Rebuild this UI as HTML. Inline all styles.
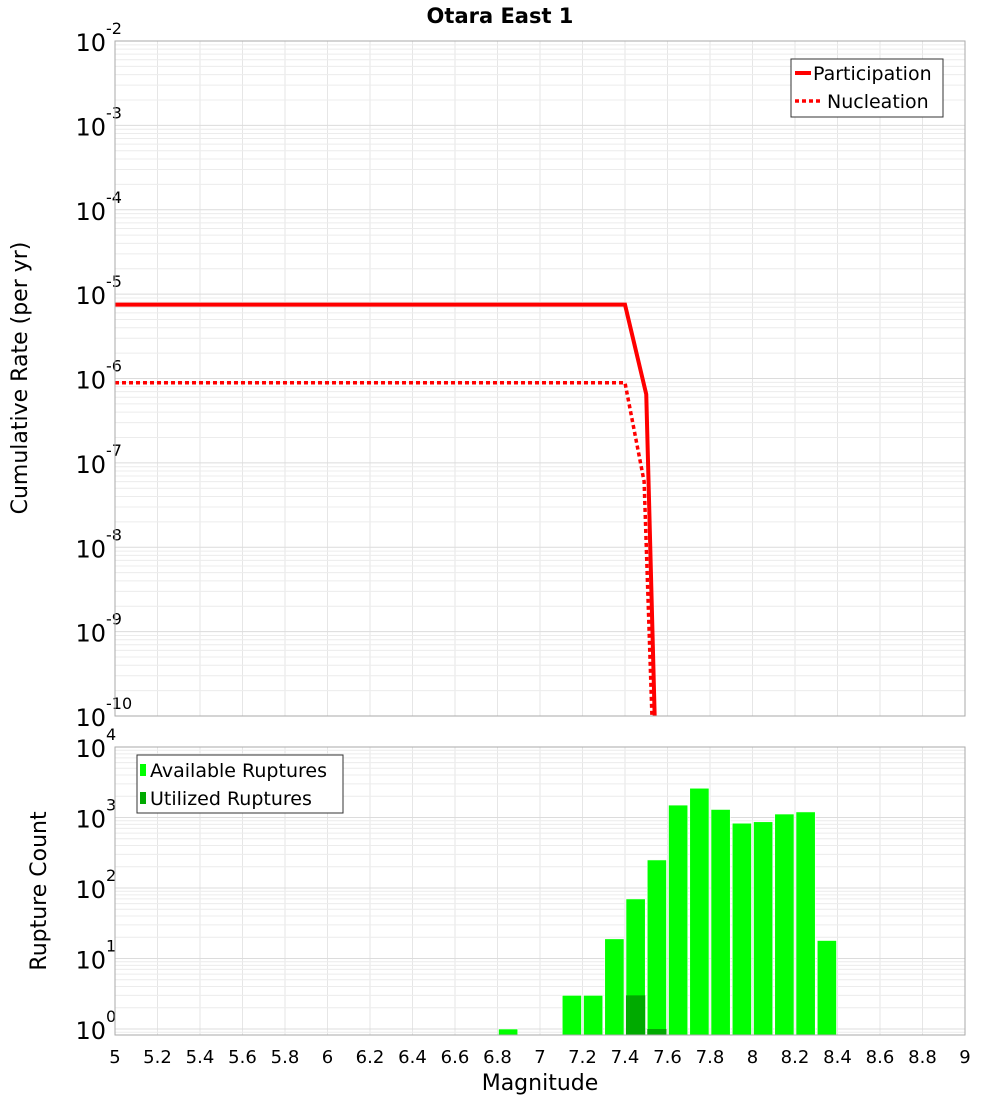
<!DOCTYPE html>
<html><head><meta charset="utf-8"><style>
body{margin:0;background:#fff;font-family:"Liberation Sans","DejaVu Sans",sans-serif}
</style></head><body>
<svg id="c" width="1000" height="1100" xmlns="http://www.w3.org/2000/svg" font-family="DejaVu Sans, Liberation Sans, sans-serif">
<text x="500" y="23" text-anchor="middle" font-weight="bold" font-size="21">Otara East 1</text>
<text transform="translate(27,378) rotate(-90)" text-anchor="middle" font-size="22">Cumulative Rate (per yr)</text>
<text transform="translate(46,891) rotate(-90)" text-anchor="middle" font-size="22">Rupture Count</text>
<text x="540" y="1090" text-anchor="middle" font-size="22">Magnitude</text>
</svg>
<script>
const rateMags=[5,7.4,7.5,7.55];
const participation=[7.5e-6,7.5e-6,6.5e-7,1e-11];
const nucleationMags=[5,7.4,7.49,7.54];
const nucleation=[8.9e-7,8.9e-7,6e-8,1e-11];
const binCenters=[6.85,7.15,7.25,7.35,7.45,7.55,7.65,7.75,7.85,7.95,8.05,8.15,8.25,8.35];
const available=[1,3,3,19,70,250,1500,2600,1300,830,870,1120,1200,18];
const utilBins=[7.45,7.55];
const utilized=[3,1];
const xTicks=[5,5.2,5.4,5.6,5.8,6,6.2,6.4,6.6,6.8,7,7.2,7.4,7.6,7.8,8,8.2,8.4,8.6,8.8,9];
const topExps=[-2,-3,-4,-5,-6,-7,-8,-9,-10];
const botExps=[4,3,2,1,0];

const svg=document.getElementById('c');const NS='http://www.w3.org/2000/svg';
function mk(t,a,p){const e=document.createElementNS(NS,t);for(const k in a)e.setAttribute(k,a[k]);(p||svg).appendChild(e);return e;}
const X0=115,X1=965;
const xs=m=>X0+(m-5)/4*(X1-X0);
const T0=41,T1=716;const ty=v=>T0+(-2-Math.log10(v))*(T1-T0)/8;
const B0=747,B1=1035,BD=70.5;const by=v=>1029-Math.log10(v)*BD;

function grid(y0,y1,yf,eMin,eMax,name){
  const g=mk('g',{});
  xTicks.forEach(m=>mk('line',{x1:xs(m),x2:xs(m),y1:y0,y2:y1,stroke:'#e6e6e6'},g));
  for(let e=eMin;e<=eMax;e++)for(let k=1;k<10;k++){const y=yf(k*Math.pow(10,e));if(y>=y0&&y<=y1)mk('line',{x1:X0,x2:X1,y1:y,y2:y,stroke:k==1?'#dcdcdc':'#ececec'},g);}
}
grid(T0,T1,ty,-10,-3,'top-grid');
grid(B0,B1,by,-1,3,'bottom-grid');

// top tick labels
topExps.forEach(e=>{const y=ty(Math.pow(10,e));const t=mk('text',{x:106,y:y+10,'text-anchor':'end','font-size':24});t.textContent='10';const s=mk('text',{x:106,y:y-7,'font-size':16});s.textContent=String(e);});
botExps.forEach(e=>{const y=by(Math.pow(10,e));const t=mk('text',{x:106,y:y+10,'text-anchor':'end','font-size':24});t.textContent='10';const s=mk('text',{x:106,y:y-7,'font-size':16});s.textContent=String(e);});
xTicks.forEach(m=>{const t=mk('text',{x:xs(m),y:1063,'text-anchor':'middle','font-size':18});t.textContent=String(m);});

// clip
const defs=mk('defs',{});const cp=mk('clipPath',{id:'tc'},defs);mk('rect',{x:X0,y:T0,width:X1-X0,height:T1-T0},cp);
const cl=mk('g',{'clip-path':'url(#tc)'});
function line(ms,vs,extra,name){const d=ms.map((m,i)=>(i?'L':'M')+xs(m)+','+ty(vs[i])).join('');const p=mk('path',Object.assign({d:d,fill:'none',stroke:'#ff0000','stroke-width':4},extra),cl);}
line(rateMags,participation,{},'participation-line');
line(nucleationMags,nucleation,{'stroke-dasharray':'4,3','stroke-width':3.5},'nucleation-line');

// bars
const bw=(xs(5.1)-xs(5));
binCenters.forEach((m,i)=>{const y=by(available[i]);const r=mk('rect',{x:xs(m)-bw/2+1,y:y,width:bw-2,height:B1-y,fill:'#00ff00',stroke:'#ffffff','stroke-width':0.6});});
utilBins.forEach((m,i)=>{const y=by(utilized[i]);const r=mk('rect',{x:xs(m)-bw/2+1,y:y,width:bw-2,height:B1-y,fill:'#00aa00'});});

// frames
const f1=mk('rect',{x:X0,y:T0,width:X1-X0,height:T1-T0,fill:'none',stroke:'#aaaaaa'});
const f2=mk('rect',{x:X0,y:B0,width:X1-X0,height:B1-B0,fill:'none',stroke:'#aaaaaa'});

// legends
const l1=mk('g',{});
mk('rect',{x:791,y:59,width:152,height:58,fill:'#fff',stroke:'#333'},l1);
mk('line',{x1:795,x2:811,y1:73,y2:73,stroke:'#f00','stroke-width':4},l1);
mk('line',{x1:795,x2:822,y1:101,y2:101,stroke:'#f00','stroke-width':3.5,'stroke-dasharray':'4,3'},l1);
let t=mk('text',{x:813,y:80,'font-size':19},l1);t.textContent='Participation';
t=mk('text',{x:827,y:108,'font-size':19},l1);t.textContent='Nucleation';
const l2=mk('g',{});
mk('rect',{x:137,y:755,width:206,height:58,fill:'#fff',stroke:'#333'},l2);
mk('rect',{x:140,y:764,width:6,height:12,fill:'#00ff00'},l2);
mk('rect',{x:140,y:792,width:6,height:12,fill:'#00aa00'},l2);
t=mk('text',{x:150,y:777,'font-size':19},l2);t.textContent='Available Ruptures';
t=mk('text',{x:150,y:805,'font-size':19},l2);t.textContent='Utilized Ruptures';
</script>
</body></html>
